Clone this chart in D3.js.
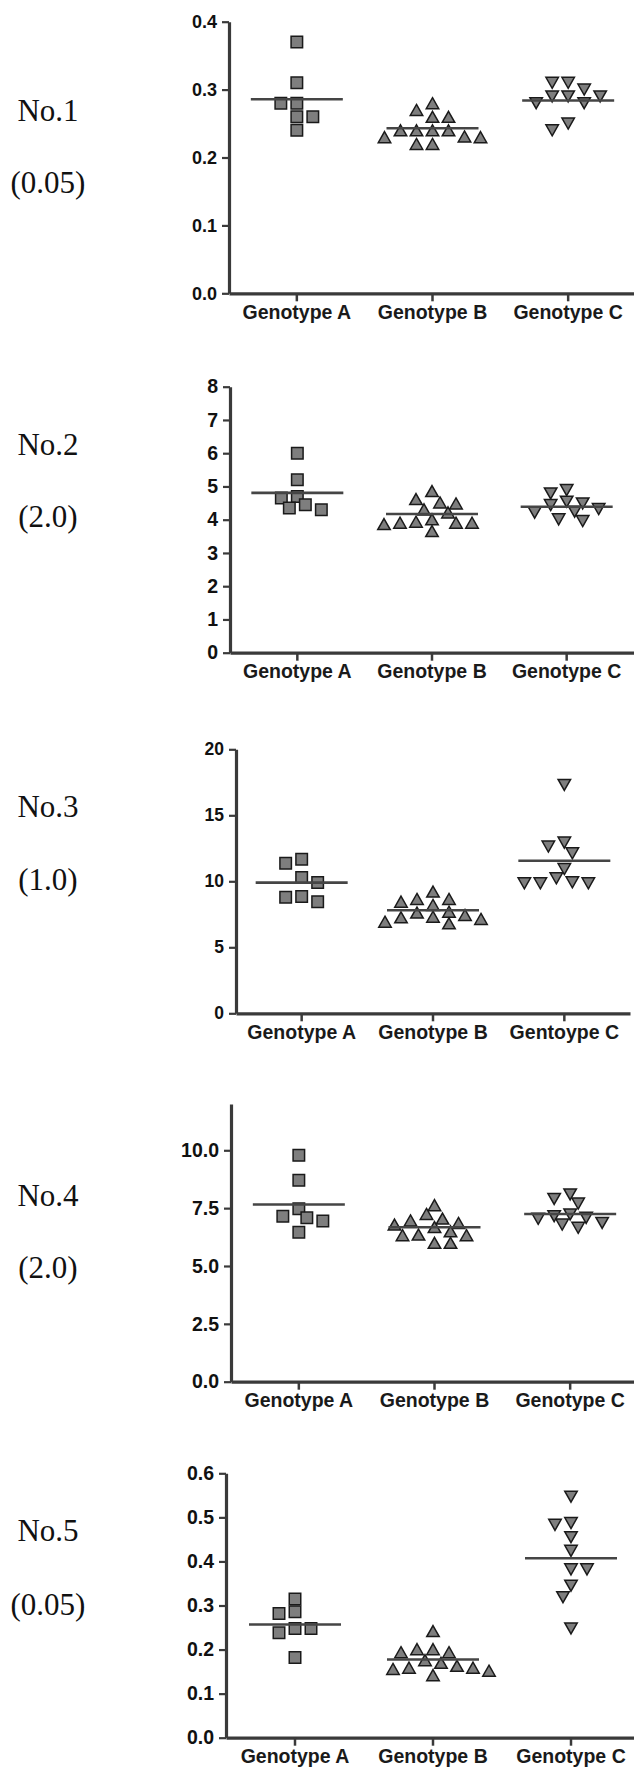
<!DOCTYPE html>
<html><head><meta charset="utf-8">
<script src="https://cdn.jsdelivr.net/npm/d3@7"></script>
<style>body{margin:0;background:#fff} svg{display:block}</style>
</head><body>
<svg id="chart" width="634" height="1769"></svg>
<script>
// ---------- DATA ----------
const categories  = ["Genotype A", "Genotype B", "Genotype C"];
const categories3 = ["Genotype A", "Genotype B", "Gentoype C"];
const panelNames  = ["No.1", "No.2", "No.3", "No.4", "No.5"];
const panelNotes  = ["(0.05)", "(2.0)", "(1.0)", "(2.0)", "(0.05)"];

const no1A = [0.37, 0.31, 0.28, 0.28, 0.26, 0.26, 0.24];
const no1B = [0.28, 0.27, 0.26, 0.26, 0.24, 0.24, 0.24, 0.24, 0.231, 0.23, 0.23, 0.22, 0.22];
const no1C = [0.31, 0.31, 0.30, 0.29, 0.29, 0.29, 0.28, 0.28, 0.25, 0.24];

const no2A = [6.0, 5.2, 4.7, 4.65, 4.45, 4.35, 4.3];
const no2B = [4.86, 4.62, 4.52, 4.49, 4.31, 4.22, 4.01, 3.94, 3.91, 3.91, 3.91, 3.87, 3.66];
const no2C = [4.89, 4.79, 4.54, 4.49, 4.44, 4.32, 4.24, 4.21, 4.01, 3.96];

const no3A = [11.67, 11.36, 10.28, 9.9, 8.84, 8.79, 8.46];
const no3B = [9.22, 8.66, 8.66, 8.46, 8.21, 7.7, 7.63, 7.45, 7.32, 7.27, 7.15, 6.94, 6.82];
const no3C = [17.3, 12.93, 12.63, 12.12, 10.93, 10.23, 9.92, 9.85, 9.85, 9.85];

const no4A = [9.78, 8.7, 7.47, 7.15, 7.08, 6.94, 6.46];
const no4B = [7.63, 7.25, 7.05, 6.97, 6.86, 6.79, 6.68, 6.5, 6.36, 6.33, 6.33, 6.0, 6.0];
const no4C = [8.09, 7.9, 7.7, 7.23, 7.15, 7.08, 7.04, 6.86, 6.79, 6.65];

const no5A = [0.315, 0.286, 0.282, 0.248, 0.248, 0.238, 0.182];
const no5B = [0.242, 0.201, 0.201, 0.194, 0.194, 0.176, 0.17, 0.163, 0.159, 0.159, 0.156, 0.152, 0.142];
const no5C = [0.547, 0.487, 0.483, 0.455, 0.424, 0.382, 0.382, 0.345, 0.319, 0.248];

const ticks1 = [0, 0.1, 0.2, 0.3, 0.4];
const ticks2 = [0, 1, 2, 3, 4, 5, 6, 7, 8];
const ticks3 = [0, 5, 10, 15, 20];
const ticks4 = [0, 2.5, 5, 7.5, 10];
const ticks5 = [0, 0.1, 0.2, 0.3, 0.4, 0.5, 0.6];

const domains = [[0, 0.4], [0, 8], [0, 20], [0, 12], [0, 0.6]];
const formats = [".1f", "d", "d", ".1f", ".1f"];

// ---------- LAYOUT ----------
const layout = [
  { x: [229, 636], y: [293.3, 21.7],   tickFont: 18,   nameY: 121,  noteY: 193 },
  { x: [230, 634], y: [652.7, 386.7],  tickFont: 19.5, nameY: 455,  noteY: 527 },
  { x: [236, 630], y: [1013.3, 749.3], tickFont: 17.5, nameY: 817,  noteY: 890 },
  { x: [231, 638], y: [1381.7, 1104],  tickFont: 19.5, nameY: 1206, noteY: 1278 },
  { x: [226, 640], y: [1737.7, 1473.3],tickFont: 19.5, nameY: 1541, noteY: 1615 }
];

const panels = [
  { cats: categories,  groups: [no1A, no1B, no1C], ticks: ticks1 },
  { cats: categories,  groups: [no2A, no2B, no2C], ticks: ticks2 },
  { cats: categories3, groups: [no3A, no3B, no3C], ticks: ticks3 },
  { cats: categories,  groups: [no4A, no4B, no4C], ticks: ticks4 },
  { cats: categories,  groups: [no5A, no5B, no5C], ticks: ticks5 }
];

const AXIS = "#3a3a3a", MARK_FILL = "#7e7e7e", MARK_STROKE = "#1a1a1a", MEAN = "#454545";
const SANS = "'Liberation Sans', Arial, Helvetica, sans-serif";
const SERIF = "'Liberation Serif', 'Times New Roman', serif";
const svg = d3.select("#chart");

// slotted beeswarm on a half-slot grid; nearest to centre first, balancing left/right
function swarm(values, y, step, minDist) {
  const placed = [];
  const free = (off, py) => placed.every(p => Math.hypot(p.dx - off, p.py - py) >= minDist);
  return values.map(v => {
    const py = y(v);
    for (let k = 0; k < 30; k++) {
      let off = null;
      if (k === 0) { if (free(0, py)) off = 0; }
      else {
        const l = free(-k * step, py), r = free(k * step, py);
        if (l && r) {
          const nl = placed.filter(p => p.dx < 0).length, nr = placed.filter(p => p.dx > 0).length;
          off = (nr < nl ? 1 : -1) * k * step;
        } else if (l) off = -k * step;
        else if (r) off = k * step;
      }
      if (off !== null) { placed.push({ dx: off, py }); return off; }
    }
    return 0;
  });
}

const shapes = [
  (w) => `M${-w/2},${-w/2}H${w/2}V${w/2}H${-w/2}Z`,
  (w) => { const h = w * 0.88; return `M0,${-h/2}L${w/2},${h/2}L${-w/2},${h/2}Z`; },
  (w) => { const h = w * 0.88; return `M0,${h/2}L${w/2},${-h/2}L${-w/2},${-h/2}Z`; }
];
const shapeSize = [11.5, 12.5, 12.5];

panels.forEach((p, i) => {
  const L = layout[i];
  const y = d3.scaleLinear().domain(domains[i]).range(L.y);
  const x = d3.scaleBand().domain(p.cats).range(L.x);
  const g = svg.append("g");

  // left titles
  g.append("text").attr("x", 48).attr("y", L.nameY).attr("text-anchor", "middle")
    .attr("font-family", SERIF).attr("font-size", 31).attr("fill", "#111").text(panelNames[i]);
  g.append("text").attr("x", 48).attr("y", L.noteY).attr("text-anchor", "middle")
    .attr("font-family", SERIF).attr("font-size", 31).attr("fill", "#111").text(panelNotes[i]);

  // y axis
  const ya = g.append("g").attr("transform", `translate(${L.x[0]},0)`)
    .call(d3.axisLeft(y).tickValues(p.ticks).tickFormat(d3.format(formats[i])).tickSize(7).tickPadding(5).tickSizeOuter(0));
  ya.select(".domain").attr("stroke", AXIS).attr("stroke-width", 3.2);
  ya.selectAll(".tick line").attr("stroke", AXIS).attr("stroke-width", 2.2);
  ya.selectAll(".tick text").attr("font-family", SANS).attr("font-weight", "bold")
    .attr("font-size", L.tickFont).attr("fill", "#111");

  // x axis
  const xa = g.append("g").attr("transform", `translate(0,${L.y[0]})`)
    .call(d3.axisBottom(x).tickSize(8).tickPadding(6).tickSizeOuter(0));
  xa.select(".domain").attr("stroke", AXIS).attr("stroke-width", 3.2);
  xa.selectAll(".tick line").attr("stroke", AXIS).attr("stroke-width", 2.5);
  xa.selectAll(".tick text").attr("font-family", SANS).attr("font-weight", "bold")
    .attr("font-size", 19.5).attr("fill", "#1a1a1a").attr("dy", "0.6em");

  // points + means
  p.groups.forEach((vals, gi) => {
    const cx = x(p.cats[gi]) + x.bandwidth() / 2;
    const offs = swarm(vals, y, 8, 11.5);
    g.append("g").selectAll("path").data(vals).join("path")
      .attr("d", shapes[gi](shapeSize[gi]))
      .attr("transform", (d, k) => `translate(${cx + offs[k]},${y(d)})`)
      .attr("fill", MARK_FILL).attr("stroke", MARK_STROKE).attr("stroke-width", 1.5);
    const m = d3.mean(vals);
    g.append("line").attr("x1", cx - 46).attr("x2", cx + 46)
      .attr("y1", y(m)).attr("y2", y(m))
      .attr("stroke", MEAN).attr("stroke-width", 2.6);
  });
});
</script>
</body></html>
